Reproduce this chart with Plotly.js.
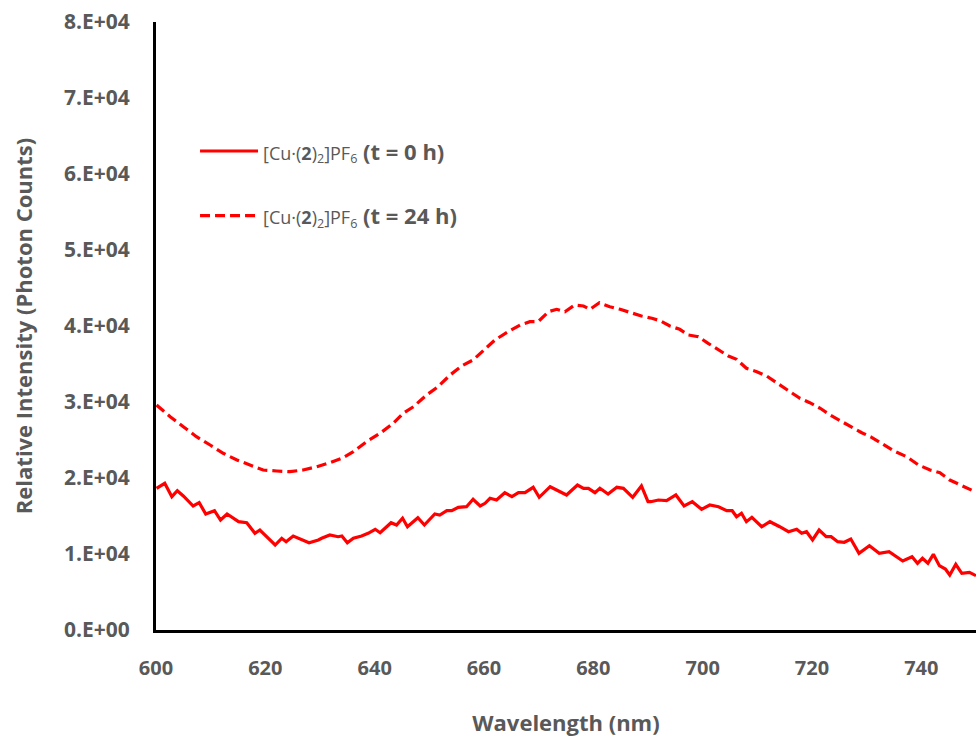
<!DOCTYPE html>
<html>
<head>
<meta charset="utf-8">
<script src="https://cdn.plot.ly/plotly-3.0.1.min.js"></script>
<style>html,body{margin:0;padding:0;background:#fff;}#chart{width:976px;height:738px;}</style>
</head>
<body>
<div id="chart"></div>
<script>
// Wavelength (nm) and intensity (photon counts)
const wl0h = [600.1,601.6,602.9,603.9,605.0,606.8,607.9,609.1,610.7,611.8,613.0,615.1,616.6,618.1,619.0,621.8,623.0,623.8,625.1,628.0,629.7,630.3,631.8,633.3,634.0,635.0,636.1,637.6,638.8,640.1,641.0,643.0,644.0,645.1,646.0,647.9,649.1,651.0,651.9,653.2,654.1,655.3,656.8,658.0,659.3,660.2,661.1,662.3,663.8,665.1,666.3,667.5,669.0,670.1,672.1,673.6,675.1,677.1,678.2,679.1,680.3,681.2,682.7,684.3,685.5,687.2,688.8,690.0,690.5,691.9,693.4,695.1,696.6,698.1,699.8,701.3,702.9,704.4,705.4,706.2,707.1,708.0,709.0,710.8,712.3,714.1,715.7,717.2,718.1,719.0,720.1,721.3,722.6,723.5,724.7,725.9,727.1,728.6,730.5,732.3,734.1,736.6,738.3,739.3,740.2,741.2,742.2,743.3,744.4,745.2,746.3,747.4,748.8,750.0];
const int0h = [18645,19303,17540,18329,17632,16316,16750,15263,15697,14474,15263,14250,14118,12724,13158,11184,12066,11618,12368,11487,11842,12066,12500,12276,12368,11487,12066,12368,12724,13250,12803,14118,13816,14697,13592,14776,13816,15263,15132,15697,15697,16145,16224,17197,16316,16671,17329,17105,18066,17540,18066,18066,18776,17461,18855,18329,17763,19079,18645,18645,18066,18645,17895,18776,18645,17461,18947,16882,16882,17105,17013,17763,16316,16882,15882,16447,16224,15697,15697,14908,15355,14250,14829,13592,14250,13592,12934,13250,12724,12934,11842,13158,12276,12276,11618,11539,11974,10092,11092,10092,10303,9079,9645,8776,9434,8776,9961,8461,8026,7237,8645,7461,7592,7145];

const wl24h = [600.1,602.6,605.0,607.4,609.9,612.3,614.8,617.2,619.6,622.1,624.5,626.9,629.4,631.8,634.0,636.1,638.5,641.0,643.4,645.2,647.1,649.5,651.6,653.8,655.9,658.0,659.9,662.0,664.4,666.6,668.4,669.9,671.8,673.3,674.8,676.6,678.2,679.4,681.1,683.0,684.9,686.7,688.8,690.7,692.2,694.0,695.8,697.4,699.2,701.0,702.9,704.7,706.2,708.0,709.9,711.7,713.5,716.0,717.8,719.6,721.5,723.3,725.4,727.3,729.1,730.9,732.8,734.9,737.3,739.5,741.6,743.4,745.2,747.7,749.8];
const int24h = [29605,28066,26750,25434,24342,23250,22368,21711,21053,20921,20829,21053,21487,22013,22592,23461,24776,25882,27197,28513,29382,30921,32013,33553,34737,35526,36842,38158,39250,40132,40566,40566,41882,42197,41882,42763,42632,42197,43066,42539,42197,41750,41316,41013,40697,40000,39566,38816,38592,37724,36842,36053,35618,34434,33987,33421,32540,31355,30487,29908,29171,28289,27408,26671,25961,25355,24474,23592,22803,21711,21053,20697,19737,18947,18197];

const xTicks = [600,620,640,660,680,700,720,740];
const yTicks = [0,10000,20000,30000,40000,50000,60000,70000,80000];
const yTickText = ['0.E+00','1.E+04','2.E+04','3.E+04','4.E+04','5.E+04','6.E+04','7.E+04','8.E+04'];
const seriesNames = [
  '<span style="font-size:18px;font-weight:normal">[Cu·(<b>2</b>)<sub>2</sub>]PF<sub>6</sub></span> <b>(t = 0 h)</b>',
  '<span style="font-size:18px;font-weight:normal">[Cu·(<b>2</b>)<sub>2</sub>]PF<sub>6</sub></span> <b>(t = 24 h)</b>'
];

const gray = '#595959';
const traces = [
  {x: wl0h, y: int0h, mode: 'lines', name: seriesNames[0], legendgroup: 'a',
   line: {color: '#ff0000', width: 3.2}},
  {x: wl24h, y: int24h, mode: 'lines', name: seriesNames[1], legendgroup: 'b',
   line: {color: '#ff0000', width: 3.2, dash: '10px,5px'}}
];

const layout = {
  width: 976, height: 738,
  margin: {l: 156, r: 0, t: 22, b: 108},
  paper_bgcolor: '#fff', plot_bgcolor: '#fff',
  font: {family: '"Open Sans", "Noto Sans", sans-serif', color: gray},
  showlegend: true,
  legend: {x: 0.0476, y: 0.822, xanchor: 'left', yanchor: 'top', bgcolor: 'rgba(0,0,0,0)',
           traceorder: 'grouped', tracegroupgap: 33, itemwidth: 58,
           font: {size: 22, color: gray, family: '"Open Sans", sans-serif'}},
  xaxis: {range: [600, 750], tickvals: xTicks, showgrid: false, zeroline: false,
          showline: true, linecolor: '#000', linewidth: 3, ticks: '',
          ticklabelstandoff: 18,
          tickfont: {size: 20, color: gray, weight: 'bold'},
          title: {text: '<b>Wavelength (nm)</b>', font: {size: 22, color: gray}, standoff: 36}},
  yaxis: {range: [0, 80000], tickvals: yTicks, ticktext: yTickText, showgrid: false, zeroline: false,
          showline: true, linecolor: '#000', linewidth: 3, ticks: '',
          ticklabelstandoff: 19,
          tickfont: {size: 21, color: gray, weight: 'bold'},
          title: {text: '<b>Relative Intensity (Photon Counts)</b>', font: {size: 22, color: gray}, standoff: 26}}
};

Plotly.newPlot('chart', traces, layout, {displayModeBar: false, staticPlot: true});
</script>
</body>
</html>
